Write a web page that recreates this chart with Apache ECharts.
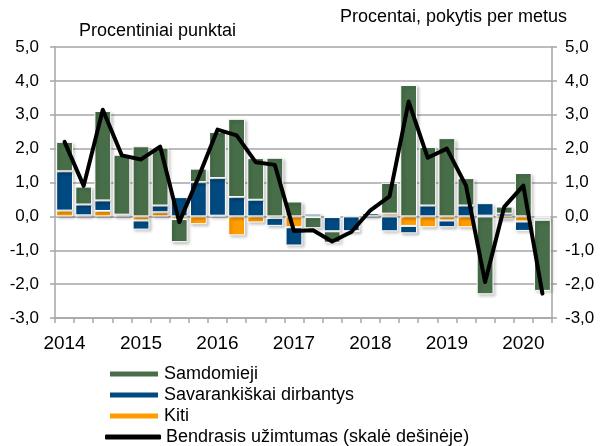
<!DOCTYPE html>
<html>
<head>
<meta charset="UTF-8">
<title>Užimtumas</title>
<script src="https://cdn.jsdelivr.net/npm/echarts@6/dist/echarts.min.js"></script>
<style>
  html, body { margin: 0; padding: 0; background: #fff; }
  #main { width: 601px; height: 446px; }
</style>
</head>
<body>
<div id="main"></div>
<script>
// ketvirčiai 2014 I – 2020 II
var quarters = [
  '2014 I', '2014 II', '2014 III', '2014 IV',
  '2015 I', '2015 II', '2015 III', '2015 IV',
  '2016 I', '2016 II', '2016 III', '2016 IV',
  '2017 I', '2017 II', '2017 III', '2017 IV',
  '2018 I', '2018 II', '2018 III', '2018 IV',
  '2019 I', '2019 II', '2019 III', '2019 IV',
  '2020 I', '2020 II'
];

// indėliai, proc. punktai
var samdomieji = [
  0.87, 0.53, 2.64, 1.77,
  2.07, 1.71, -0.68, 0.40,
  1.36, 2.31, 1.23, 1.73,
  0.44, -0.33, -0.34, 0,
  0, 0.91, 3.88, 1.73,
  2.31, 0.81, -2.30, 0.21,
  1.28, -2.10
];
var savarankiski = [
  1.16, 0.32, 0.31, 0.02,
  -0.27, 0.20, 0.57, 1.01,
  1.11, 0.57, 0.49, -0.23,
  -0.54, 0.08, -0.42, -0.44,
  0.08, -0.44, -0.22, 0.32,
  -0.20, 0.32, 0.37, 0.08,
  -0.28, -0.06
];
var kiti = [
  0.17, 0.03, 0.16, 0.03,
  -0.12, 0.12, -0.08, -0.23,
  0.02, -0.56, -0.18, -0.05,
  -0.32, -0.02, -0.02, 0.03,
  0.02, 0.08, -0.28, -0.32,
  -0.12, -0.32, 0.02, -0.08,
  -0.15, -0.04
];
// bendrasis užimtumas, proc. pokytis per metus (dešinė ašis)
var bendrasis = [
  2.20, 0.90, 3.15, 1.80,
  1.68, 2.06, -0.17, 1.15,
  2.56, 2.39, 1.60, 1.52,
  -0.43, -0.41, -0.74, -0.46,
  0.18, 0.59, 3.39, 1.73,
  2.00, 0.91, -1.94, 0.28,
  0.91, -2.28
];

var green = '#476e48';
var blue = '#004a80';
var orange = '#ff9c00';
var gridColor = '#a6a6a6';
var font = 'Liberation Sans, Arial, sans-serif';

function fmt(v) {
  return v.toFixed(1).replace('.', ',');
}

var barStyle = function (c) {
  return {
    color: c,
    borderColor: '#fff',
    borderWidth: 1,
    shadowColor: 'rgba(0,0,0,0.22)',
    shadowBlur: 3,
    shadowOffsetX: 2,
    shadowOffsetY: 2
  };
};

// viena legenda kiekvienai eilutei
function legendRow(name, top, left, w, h, icon) {
  return {
    orient: 'vertical',
    left: left,
    top: top,
    itemWidth: w,
    itemHeight: h,
    padding: 0,
    textStyle: { fontSize: 18, color: '#000', fontFamily: font },
    data: [{ name: name, icon: icon }]
  };
}

var chart = echarts.init(document.getElementById('main'));

var option = {
  animation: false,
  backgroundColor: '#fff',
  textStyle: { fontFamily: font, color: '#000' },
  graphic: [
    { type: 'text', left: 79, top: 22,
      style: { text: 'Procentiniai punktai', font: '18px Liberation Sans', fill: '#000' } },
    { type: 'text', right: 34, top: 8,
      style: { text: 'Procentai, pokytis per metus', font: '18px Liberation Sans', fill: '#000' } }
  ],
  grid: { left: 55, right: 49, top: 47, bottom: 128 },
  legend: [
    legendRow('Samdomieji', 365, 108, 50, 7, 'rect'),
    legendRow('Savarankiškai dirbantys', 386, 108, 50, 7, 'rect'),
    legendRow('Kiti', 407, 108, 50, 7, 'rect'),
    legendRow('Bendrasis užimtumas (skalė dešinėje)', 428, 105, 56, 5, 'roundRect')
  ],
  xAxis: {
    type: 'category',
    data: quarters,
    boundaryGap: true,
    axisLine: { onZero: false, lineStyle: { color: gridColor, width: 1.5 } },
    axisTick: { show: true, interval: 0, length: 5, lineStyle: { color: gridColor, width: 1.5 } },
    axisLabel: {
      interval: 3,
      margin: 16,
      fontSize: 19,
      color: '#000',
      formatter: function (v) { return v.split(' ')[0]; }
    },
    splitLine: { show: false }
  },
  yAxis: [
    {
      type: 'value',
      min: -3, max: 5, interval: 1,
      axisLine: { show: true, lineStyle: { color: gridColor, width: 1.5 } },
      axisTick: { show: true, length: 5, lineStyle: { color: gridColor, width: 1.5 } },
      axisLabel: { fontSize: 17, color: '#000', margin: 16, formatter: fmt },
      splitLine: { show: true, lineStyle: { color: gridColor, width: 1.5 } }
    },
    {
      type: 'value',
      position: 'right',
      min: -3, max: 5, interval: 1,
      axisLine: { show: true, lineStyle: { color: gridColor, width: 1.5 } },
      axisTick: { show: true, length: 5, lineStyle: { color: gridColor, width: 1.5 } },
      axisLabel: { fontSize: 17, color: '#000', margin: 13, formatter: fmt },
      splitLine: { show: false }
    }
  ],
  series: [
    {
      name: 'Kiti', type: 'bar', stack: 'u', barCategoryGap: '12%',
      itemStyle: barStyle(orange), data: kiti
    },
    {
      name: 'Savarankiškai dirbantys', type: 'bar', stack: 'u',
      itemStyle: barStyle(blue), data: savarankiski
    },
    {
      name: 'Samdomieji', type: 'bar', stack: 'u',
      itemStyle: barStyle(green), data: samdomieji
    },
    {
      name: 'Bendrasis užimtumas (skalė dešinėje)', type: 'line', yAxisIndex: 1,
      symbol: 'none', smooth: false,
      lineStyle: { color: '#000', width: 4, join: 'round', cap: 'round' },
      itemStyle: { color: '#000' },
      data: bendrasis
    }
  ]
};

chart.setOption(option);
</script>
</body>
</html>
